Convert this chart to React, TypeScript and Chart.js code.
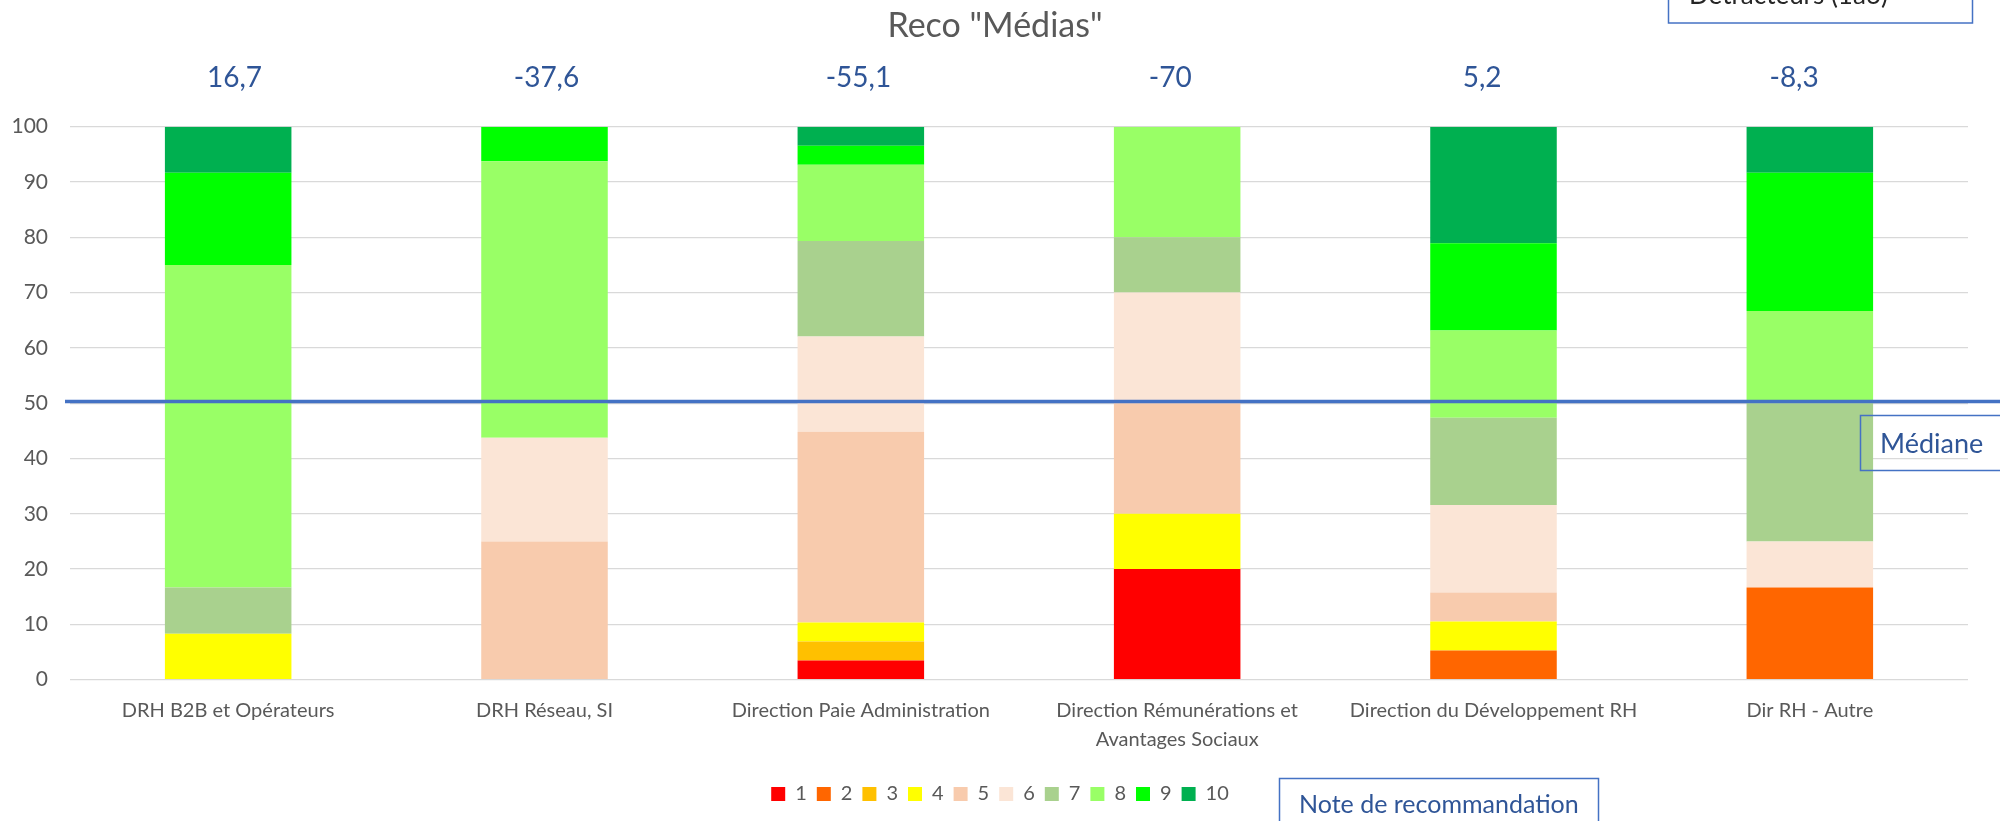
import React, { useEffect, useRef } from "react";
import { Chart, registerables } from "chart.js";

Chart.register(...registerables);

// ---------- data ----------
const categories: (string | string[])[] = [
  "DRH B2B et Opérateurs",
  "DRH Réseau, SI",
  "Direction Paie Administration",
  ["Direction Rémunérations et", "Avantages Sociaux"],
  "Direction du Développement RH",
  "Dir RH - Autre",
];

const noteLabels = ["1", "2", "3", "4", "5", "6", "7", "8", "9", "10"];

const note1 = [0, 0, 3.45, 20, 0, 0];
const note2 = [0, 0, 0, 0, 5.26, 16.67];
const note3 = [0, 0, 3.45, 0, 0, 0];
const note4 = [8.33, 0, 3.45, 10, 5.26, 0];
const note5 = [0, 25, 34.48, 20, 5.26, 0];
const note6 = [0, 18.75, 17.24, 20, 15.79, 8.33];
const note7 = [8.33, 0, 17.24, 10, 15.79, 25];
const note8 = [58.33, 50, 13.79, 20, 15.79, 16.67];
const note9 = [16.67, 6.25, 3.45, 0, 15.79, 25];
const note10 = [8.33, 0, 3.45, 0, 21.05, 8.33];

const scoreLabels = ["16,7", "-37,6", "-55,1", "-70", "5,2", "-8,3"];

const medianValue = 50.3;

const yMin = 0;
const yMax = 100;
const yStep = 10;

const titleText = 'Reco "Médias"';
const medianText = "Médiane";
const noteBoxText = "Note de recommandation";
const detractBoxText = "Détracteurs (1à6)";

// ---------- styles ----------
const noteColors = [
  "#FF0000",
  "#FF6600",
  "#FFC000",
  "#FFFF00",
  "#F8CBAD",
  "#FBE5D6",
  "#A9D18E",
  "#99FF66",
  "#00FF00",
  "#00B050",
];

const FONT = "Lato, 'Noto Sans', sans-serif";
const GREY_TEXT = "#595959";
const BLUE_TEXT = "#2F5597";
const BLUE_LINE = "#4472C4";

const overlayPlugin = {
  id: "overlayPlugin",
  afterLayout(chart: any) {
    // centre the legend on the page like the reference
    if (chart.legend) {
      chart.legend.left = 32;
      chart.legend.right = 1968;
    }
  },
  afterDatasetsDraw(chart: any) {
    const { ctx, scales } = chart;
    const x = scales.x;
    const y = scales.y;
    ctx.save();

    // median line
    const my = y.getPixelForValue(medianValue);
    ctx.strokeStyle = BLUE_LINE;
    ctx.lineWidth = 3.5;
    ctx.beginPath();
    ctx.moveTo(65, my);
    ctx.lineTo(2000, my);
    ctx.stroke();

    // title
    ctx.fillStyle = GREY_TEXT;
    ctx.font = `34px ${FONT}`;
    ctx.textAlign = "center";
    ctx.textBaseline = "alphabetic";
    ctx.fillText(titleText, 995, 37);

    // score labels above bars
    ctx.fillStyle = BLUE_TEXT;
    ctx.font = `28px ${FONT}`;
    scoreLabels.forEach((t, i) => {
      const px = x.getPixelForValue(i) * 0.986 + 9.6;
      ctx.fillText(t, px, 87);
    });

    // Médiane box
    ctx.strokeStyle = BLUE_LINE;
    ctx.lineWidth = 1.5;
    ctx.strokeRect(1860.5, 415.5, 200, 55);
    ctx.textAlign = "left";
    ctx.fillStyle = BLUE_TEXT;
    ctx.font = `27px ${FONT}`;
    ctx.fillText(medianText, 1880, 453);

    // Note de recommandation box
    ctx.strokeRect(1279.5, 778.5, 319, 80);
    ctx.font = `25px ${FONT}`;
    ctx.fillText(noteBoxText, 1299, 813);

    // Détracteurs box (cut at top)
    ctx.font = `26px ${FONT}`;
    ctx.strokeRect(1668.5, -40, 304, 63);
    ctx.fillStyle = "#262626";
    ctx.fillText(detractBoxText, 1689, 4);

    ctx.restore();
  },
};

export default function App() {
  const canvasRef = useRef<HTMLCanvasElement | null>(null);

  useEffect(() => {
    if (!canvasRef.current) return;
    const notes = [note1, note2, note3, note4, note5, note6, note7, note8, note9, note10];
    const chart = new Chart(canvasRef.current, {
      type: "bar",
      data: {
        labels: categories as any,
        datasets: notes.map((d, i) => ({
          label: noteLabels[i],
          data: d,
          backgroundColor: noteColors[i],
          borderWidth: 0,
          categoryPercentage: 1,
          barPercentage: 0.4,
        })),
      },
      options: {
        responsive: false,
        animation: false,
        devicePixelRatio: 1,
        layout: { padding: { top: 126.7, left: 0, right: 32, bottom: 7 } },
        plugins: {
          title: { display: false },
          tooltip: { enabled: false },
          legend: {
            display: true,
            position: "bottom",
            labels: {
              boxWidth: 14,
              boxHeight: 14,
              padding: 10,
              color: GREY_TEXT,
              font: { family: FONT, size: 20 },
            },
          },
        },
        scales: {
          x: {
            stacked: true,
            grid: { display: false, drawTicks: false },
            border: { display: false },
            ticks: {
              color: GREY_TEXT,
              font: { family: FONT, size: 20, lineHeight: 1.45 },
              padding: 16.7,
              maxRotation: 0,
              minRotation: 0,
              autoSkip: false,
            },
            afterFit: (s: any) => {
              s.height = 94.3;
            },
          },
          y: {
            stacked: true,
            min: yMin,
            max: yMax,
            grid: { color: "#D9D9D9", lineWidth: 1.3, drawTicks: false },
            border: { display: false },
            ticks: {
              stepSize: yStep,
              color: GREY_TEXT,
              font: { family: FONT, size: 21 },
              padding: 22,
            },
            afterFit: (s: any) => {
              s.width = 70;
            },
          },
        },
      },
      plugins: [overlayPlugin],
    });
    return () => chart.destroy();
  }, []);

  return (
    <div style={{ position: "absolute", left: 0, top: 0, width: 2000, height: 821 }}>
      <canvas ref={canvasRef} width={2000} height={821} style={{ width: 2000, height: 821 }} />
    </div>
  );
}
